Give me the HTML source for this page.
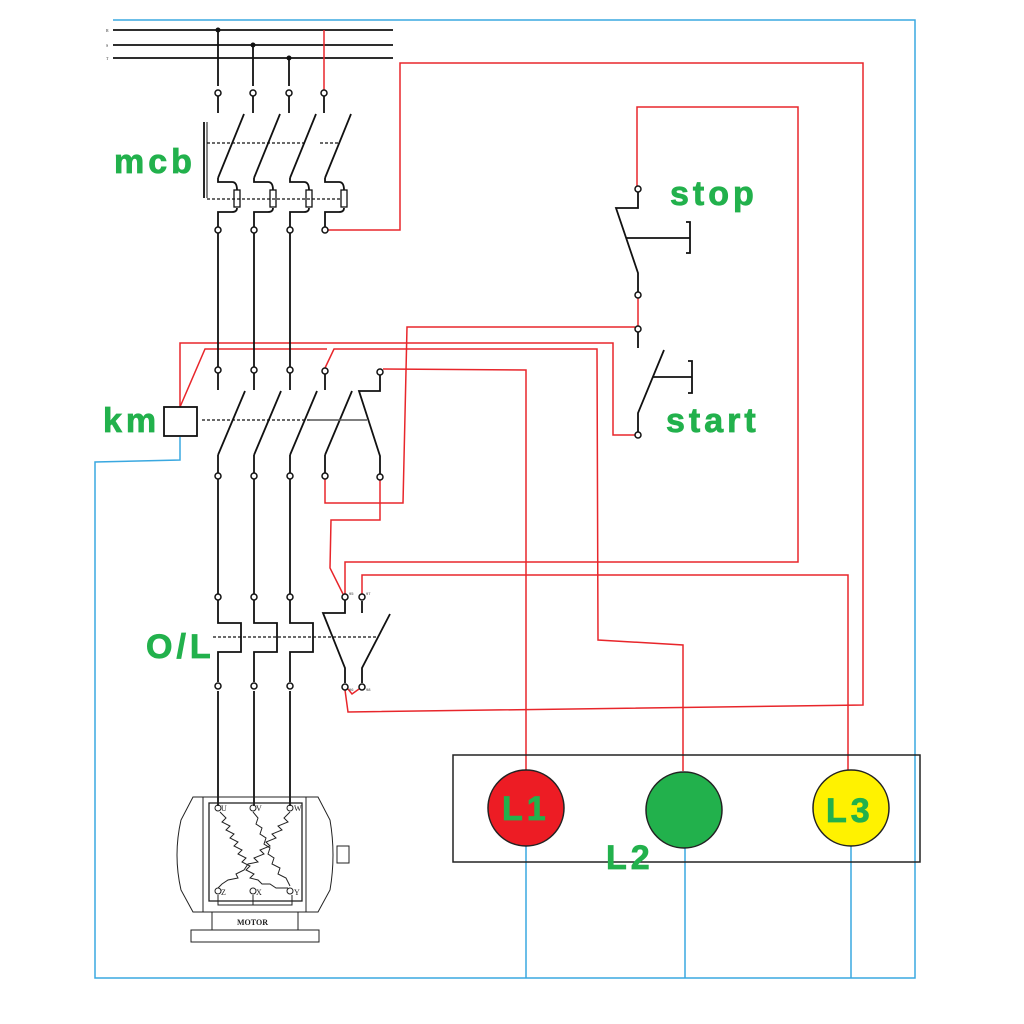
<!DOCTYPE html>
<html><head><meta charset="utf-8"><style>
html,body{margin:0;padding:0;background:#fff;width:1024px;height:1024px;overflow:hidden}
svg text.g{font-family:"Liberation Sans",sans-serif;fill:#22b14c;font-size:34px;font-weight:bold;letter-spacing:4px;stroke:#22b14c;stroke-width:0.8}
</style></head><body>
<svg width="1024" height="1024" viewBox="0 0 1024 1024" xmlns="http://www.w3.org/2000/svg">
<g fill="none" stroke="#3aa8e0" stroke-width="1.5">
<polyline points="113,20 915,20 915,978 95,978 95,462 180,460 180,437"/>
<line x1="526" y1="845" x2="526" y2="978"/>
<line x1="685" y1="848" x2="685" y2="978"/>
<line x1="851" y1="845" x2="851" y2="978"/>
</g>
<g stroke="#111" stroke-width="1.8" fill="none">
<line x1="113" y1="30" x2="393" y2="30"/>
<line x1="113" y1="45" x2="393" y2="45"/>
<line x1="113" y1="58" x2="393" y2="58"/>
<line x1="218" y1="30" x2="218" y2="86"/>
<line x1="253" y1="45" x2="253" y2="86"/>
<line x1="289" y1="58" x2="289" y2="86"/>
</g>
<g fill="#111"><circle cx="218" cy="30" r="2.5"/><circle cx="253" cy="45" r="2.5"/><circle cx="289" cy="58" r="2.5"/></g>
<g font-family="Liberation Serif" font-size="4" fill="#333"><text x="106" y="32">R</text><text x="106" y="47">S</text><text x="106" y="60">T</text></g>
<g fill="none" stroke="#e8262b" stroke-width="1.5">
<line x1="324" y1="30" x2="324" y2="90"/>
<polyline points="327,230 400,230 400,63 863,63 863,705 348,712 345,690"/>
<polyline points="348,689 352,694 359,689"/>
<polyline points="180,407 180,343 613,343 613,435 635,435"/>
<polyline points="180,407 205,349 327,349"/>
<polyline points="325,368 334,349 597,349 598,640 683,645 683,771"/>
<polyline points="383,369 526,370 526,770"/>
<polyline points="325,479 325,503 403,503 407,327 635,327"/>
<polyline points="380,480 380,520 331,520 330,568 343,594"/>
<polyline points="345,594 345,562 798,562 798,107 637,107 637,186"/>
<polyline points="362,594 362,575 848,575 848,770"/>
<line x1="638" y1="298" x2="638" y2="326"/>
</g>
<g stroke="#111" stroke-width="1.8" fill="none">
<line x1="218" y1="96" x2="218" y2="113"/><line x1="253" y1="96" x2="253" y2="113"/><line x1="289" y1="96" x2="289" y2="113"/><line x1="324" y1="96" x2="324" y2="113"/>
<line x1="244" y1="114" x2="218" y2="178"/><line x1="280" y1="114" x2="254" y2="178"/><line x1="316" y1="114" x2="290" y2="178"/><line x1="351" y1="114" x2="325" y2="178"/>
<path d="M218,178 V182 H232 Q237,182 237,190 M237,208 Q237,212 232,212 H218 V227"/>
<path d="M254,178 V182 H268 Q273,182 273,190 M273,208 Q273,212 268,212 H254 V227"/>
<path d="M290,178 V182 H304 Q309,182 309,190 M309,208 Q309,212 304,212 H290 V227"/>
<path d="M325,178 V182 H339 Q344,182 344,190 M344,208 Q344,212 339,212 H325 V227"/>
<rect x="234" y="190" width="6" height="17" stroke-width="1.3"/><rect x="270" y="190" width="6" height="17" stroke-width="1.3"/><rect x="306" y="190" width="6" height="17" stroke-width="1.3"/><rect x="341" y="190" width="6" height="17" stroke-width="1.3"/>
<line x1="204" y1="122" x2="204" y2="198"/><line x1="207" y1="122" x2="207" y2="198" stroke-width="1"/>
<line x1="207" y1="143" x2="305" y2="143" stroke-dasharray="3,2" stroke-width="1.2"/>
<line x1="320" y1="143" x2="340" y2="143" stroke-dasharray="3,2" stroke-width="1.2"/>
<line x1="207" y1="199" x2="340" y2="199" stroke-dasharray="3,2" stroke-width="1.2"/>
<line x1="218" y1="233" x2="218" y2="367"/><line x1="254" y1="233" x2="254" y2="367"/><line x1="290" y1="233" x2="290" y2="367"/>
<rect x="164" y="407" width="33" height="29"/>
<line x1="218" y1="373" x2="218" y2="390"/><line x1="254" y1="373" x2="254" y2="390"/><line x1="290" y1="373" x2="290" y2="390"/><line x1="325" y1="374" x2="325" y2="390"/>
<line x1="245" y1="391" x2="218" y2="455"/><line x1="281" y1="391" x2="254" y2="455"/><line x1="317" y1="391" x2="290" y2="455"/><line x1="352" y1="391" x2="325" y2="455"/>
<polyline points="380,375 380,391 359,391 380,456 380,474"/>
<line x1="218" y1="455" x2="218" y2="473"/><line x1="254" y1="455" x2="254" y2="473"/><line x1="290" y1="455" x2="290" y2="473"/><line x1="325" y1="455" x2="325" y2="473"/>
<line x1="202" y1="420" x2="310" y2="420" stroke-dasharray="3,2" stroke-width="1.2"/>
<line x1="309" y1="420" x2="367" y2="420" stroke="#555" stroke-width="1.5"/>
<line x1="218" y1="479" x2="218" y2="594"/><line x1="254" y1="479" x2="254" y2="594"/><line x1="290" y1="479" x2="290" y2="594"/>
<polyline points="218,600 218,623 241,623 241,652 218,652 218,682"/>
<polyline points="254,600 254,623 277,623 277,652 254,652 254,682"/>
<polyline points="290,600 290,623 313,623 313,652 290,652 290,682"/>
<line x1="213" y1="637" x2="376" y2="637" stroke-dasharray="3,2" stroke-width="1.2"/>
<polyline points="345,600 345,613 323,613 345,668 345,683"/>
<polyline points="362,601 362,613"/><polyline points="390,614 362,668 362,683"/>
<line x1="218" y1="691" x2="218" y2="806"/><line x1="254" y1="691" x2="254" y2="806"/><line x1="290" y1="691" x2="290" y2="806"/>
<polyline points="638,192 638,208 616,208 638,273 638,292"/>
<line x1="626" y1="238" x2="690" y2="238"/>
<polyline points="686,222 690,222 690,253 686,253"/>
<polyline points="638,332 638,348"/><polyline points="664,350 638,413 638,432"/>
<line x1="653" y1="377" x2="692" y2="377"/>
<polyline points="688,361 692,361 692,393 688,393"/>
</g>
<g fill="#fff" stroke="#111" stroke-width="1.5">
<circle cx="218" cy="93" r="3"/><circle cx="253" cy="93" r="3"/><circle cx="289" cy="93" r="3"/><circle cx="324" cy="93" r="3"/>
<circle cx="218" cy="230" r="3"/><circle cx="254" cy="230" r="3"/><circle cx="290" cy="230" r="3"/><circle cx="325" cy="230" r="3"/>
<circle cx="218" cy="370" r="3"/><circle cx="254" cy="370" r="3"/><circle cx="290" cy="370" r="3"/><circle cx="325" cy="371" r="3"/><circle cx="380" cy="372" r="3"/>
<circle cx="218" cy="476" r="3"/><circle cx="254" cy="476" r="3"/><circle cx="290" cy="476" r="3"/><circle cx="325" cy="476" r="3"/><circle cx="380" cy="477" r="3"/>
<circle cx="218" cy="597" r="3"/><circle cx="254" cy="597" r="3"/><circle cx="290" cy="597" r="3"/><circle cx="345" cy="597" r="3"/><circle cx="362" cy="597" r="3"/>
<circle cx="218" cy="686" r="3"/><circle cx="254" cy="686" r="3"/><circle cx="290" cy="686" r="3"/><circle cx="345" cy="687" r="3"/><circle cx="362" cy="687" r="3"/>
<circle cx="638" cy="189" r="3"/><circle cx="638" cy="295" r="3"/><circle cx="638" cy="329" r="3"/><circle cx="638" cy="435" r="3"/>
</g>
<g font-family="Liberation Sans" font-size="4" fill="#333">
<text x="349" y="595">95</text><text x="366" y="595">97</text><text x="349" y="691">96</text><text x="366" y="691">98</text>
</g>
<g stroke="#222" stroke-width="1" fill="none">
<path d="M193,797 H318 L330,820 Q336,855 330,890 L318,912 H193 L181,890 Q173,855 181,820 Z"/>
<line x1="203" y1="797" x2="203" y2="912"/><line x1="306" y1="797" x2="306" y2="912"/>
<rect x="209" y="803" width="93" height="98" stroke-width="1.3"/>
<rect x="337" y="846" width="12" height="17"/>
<rect x="212" y="912" width="86" height="18"/>
<rect x="191" y="930" width="128" height="12"/>
<polyline points="220,812 226,818 222,822 230,826 226,830 234,834 230,838 238,842 234,846 242,850 238,854 246,858 242,862 250,866 246,870 254,874 250,878 258,880 262,884 270,884 276,888 288,888"/>
<polyline points="290,812 284,818 288,822 278,826 282,830 272,834 276,838 266,842 270,846 260,850 264,854 254,858 258,862 248,864 244,870 236,874 238,878 228,880 222,884 218,888"/>
<polyline points="253,812 258,818 256,824 262,828 260,834 266,838 264,844 270,848 268,854 274,858 272,864 280,868 278,874 286,878 290,886"/>
<polyline points="218,895 218,905 292,905 292,895"/><line x1="253" y1="895" x2="253" y2="905"/>
<circle cx="218" cy="808" r="3"/><circle cx="253" cy="808" r="3"/><circle cx="290" cy="808" r="3"/>
<circle cx="218" cy="891" r="3"/><circle cx="253" cy="891" r="3"/><circle cx="290" cy="891" r="3"/>
</g>
<g font-family="Liberation Serif" font-size="8" fill="#222">
<text x="221" y="811">U</text><text x="256" y="811">V</text><text x="294" y="811">W</text>
<text x="221" y="895">Z</text><text x="256" y="895">X</text><text x="294" y="895">Y</text>
<text x="237" y="925" font-size="8" font-weight="bold">MOTOR</text>
</g>
<rect x="453" y="755" width="467" height="107" fill="none" stroke="#222" stroke-width="1.5"/>
<circle cx="526" cy="808" r="38" fill="#ed1c24" stroke="#222" stroke-width="1.5"/>
<circle cx="684" cy="810" r="38" fill="#22b14c" stroke="#222" stroke-width="1.5"/>
<circle cx="851" cy="808" r="38" fill="#fff200" stroke="#222" stroke-width="1.5"/>
<text class="g" x="502" y="820">L1</text>
<text class="g" x="826" y="822">L3</text>
<text class="g" x="606" y="869">L2</text>
<text class="g" x="114" y="173">mcb</text>
<text class="g" x="103" y="432">km</text>
<text class="g" x="146" y="658">O/L</text>
<text class="g" x="670" y="205">stop</text>
<text class="g" x="666" y="432">start</text>
</svg>
</body></html>
